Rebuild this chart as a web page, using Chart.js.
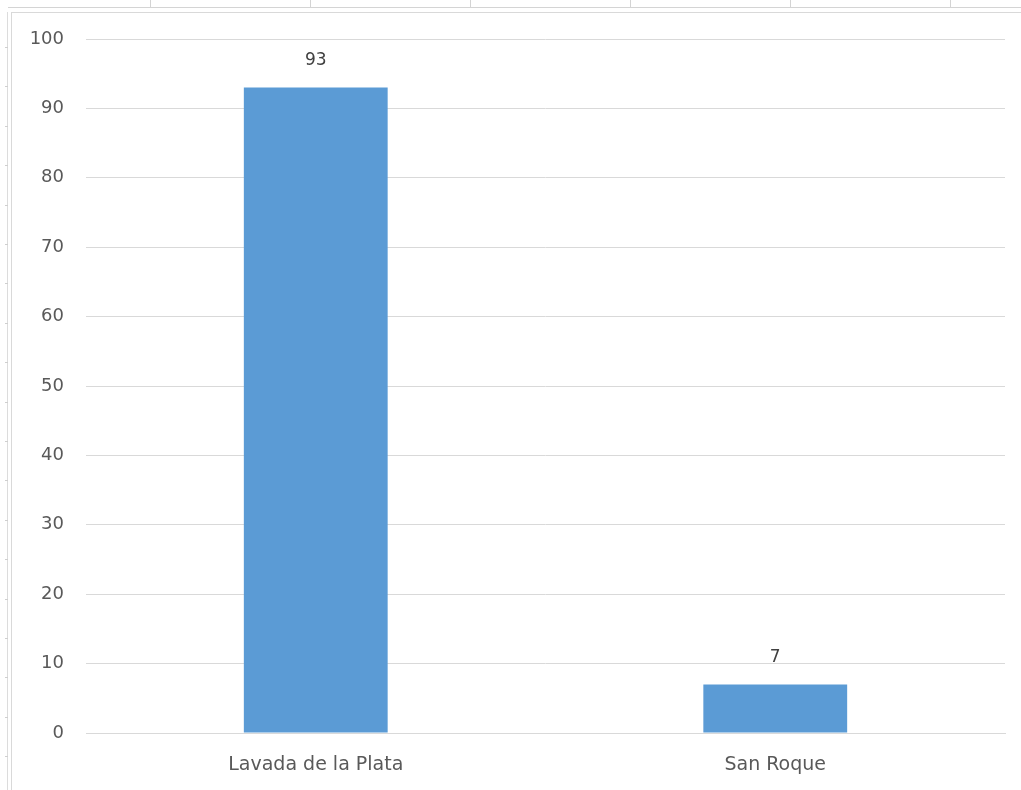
<!DOCTYPE html>
<html>
<head>
<meta charset="utf-8">
<script src="https://cdn.jsdelivr.net/npm/chart.js@4/dist/chart.umd.min.js"></script>
<style>
  html, body { margin: 0; padding: 0; background: #ffffff; overflow: hidden; }
  body { width: 1021px; height: 790px; position: relative; }
  .hline { position: absolute; left: 8px; top: 7px; width: 1013px; height: 0; border-top: 1px solid #d4d4d4; }
  .col { position: absolute; top: 0; width: 0; height: 7px; border-left: 1px solid #d4d4d4; }
  .vline { position: absolute; left: 7px; top: 12px; width: 0; height: 778px; border-left: 1px solid #dcdcdc; }
  .rtick { position: absolute; left: 5px; width: 3px; height: 0; border-top: 1px solid #cfcfcf; }
  #frame { position: absolute; left: 11px; top: 12px; width: 1020px; height: 790px; border-left: 1px solid #d9d9d9; border-top: 1px solid #d9d9d9; background: #fff; }
  #wrap { position: absolute; left: 12px; top: 13px; width: 1009px; height: 777px; }
</style>
</head>
<body>
<div class="hline"></div>
<div class="col" style="left:150px"></div>
<div class="col" style="left:310px"></div>
<div class="col" style="left:470px"></div>
<div class="col" style="left:630px"></div>
<div class="col" style="left:790px"></div>
<div class="col" style="left:950px"></div>
<div class="vline"></div>
<div id="ticks"></div>
<div id="frame"></div>
<div id="wrap"><canvas id="c" width="1009" height="777"></canvas></div>
<script>
const categories = ["Lavada de la Plata", "San Roque"];
const values = [93, 7];
const yTicks = [0, 10, 20, 30, 40, 50, 60, 70, 80, 90, 100];

// spreadsheet row ticks on the left edge
(function(){
  const t = document.getElementById('ticks');
  for (let y = 47; y < 790; y += 39.4) {
    const d = document.createElement('div');
    d.className = 'rtick';
    d.style.top = Math.round(y) + 'px';
    t.appendChild(d);
  }
})();

const FONT = '"DejaVu Sans", Verdana, sans-serif';

const valueLabels = {
  id: 'valueLabels',
  afterDatasetsDraw(chart) {
    const ctx = chart.ctx;
    const meta = chart.getDatasetMeta(0);
    ctx.save();
    ctx.font = '17px ' + FONT;
    ctx.fillStyle = '#404040';
    ctx.textAlign = 'center';
    ctx.textBaseline = 'middle';
    meta.data.forEach((bar, i) => {
      ctx.fillText(String(values[i]), bar.x, bar.y - 27);
    });
    ctx.restore();
  }
};

new Chart(document.getElementById('c'), {
  type: 'bar',
  data: {
    labels: categories,
    datasets: [{
      data: values,
      backgroundColor: '#5B9BD5',
      borderWidth: 0,
      barPercentage: 0.313,
      categoryPercentage: 1.0
    }]
  },
  options: {
    responsive: false,
    animation: false,
    events: [],
    layout: { padding: { left: 0, right: 16, top: 26, bottom: 0 } },
    plugins: { legend: { display: false }, tooltip: { enabled: false } },
    scales: {
      x: {
        grid: { display: false, drawTicks: false },
        border: { display: true, color: '#d9d9d9', width: 1 },
        ticks: {
          color: '#595959',
          font: { family: FONT, size: 19 },
          padding: 21,
          maxRotation: 0
        },
        afterFit(scale) { scale.height = 57; scale.paddingLeft = 0; scale.paddingRight = 0; }
      },
      y: {
        min: 0,
        max: 100,
        afterBuildTicks(scale) { scale.ticks = yTicks.map(v => ({ value: v })); },
        grid: { color: '#d9d9d9', lineWidth: 1, drawTicks: false },
        border: { display: false },
        ticks: {
          color: '#595959',
          font: { family: FONT, size: 18 },
          padding: 22
        },
        afterFit(scale) { scale.width = 74; scale.paddingTop = 0; scale.paddingBottom = 0; }
      }
    }
  },
  plugins: [valueLabels]
});
</script>
</body>
</html>
